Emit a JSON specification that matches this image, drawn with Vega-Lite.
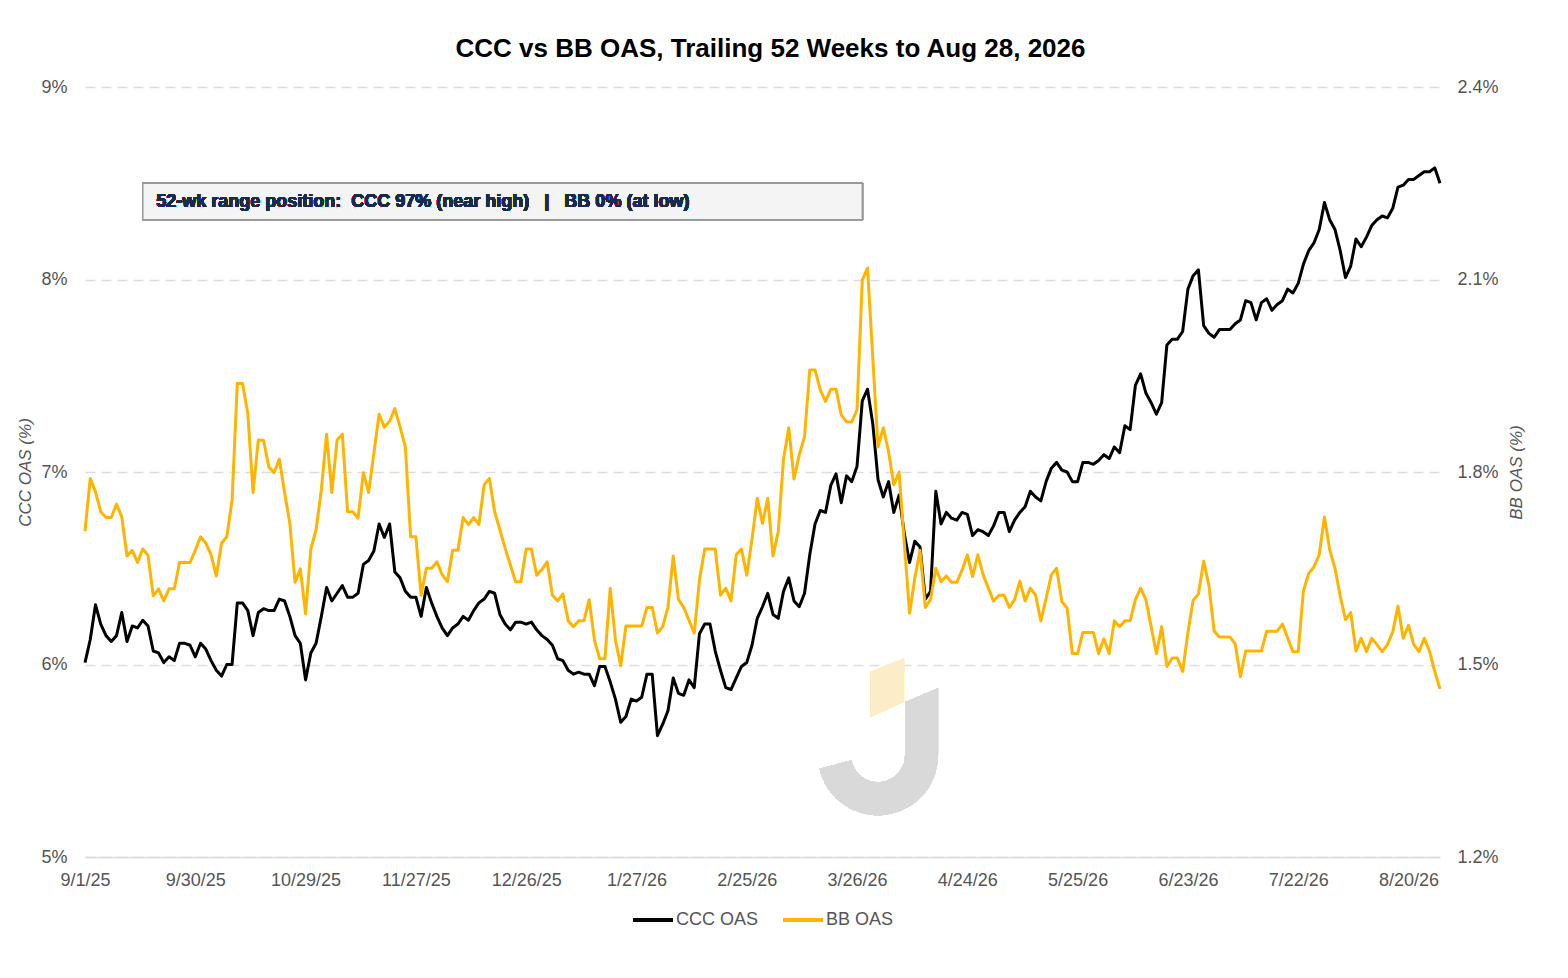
{
  "$schema": "https://vega.github.io/schema/vega-lite/v6.json",
  "width": 1355,
  "height": 770,
  "autosize": {"type": "none"},
  "padding": {"left": 85, "top": 87, "right": 128, "bottom": 121},
  "title": {"text": "CCC vs BB OAS, Trailing 52 Weeks to Aug 28, 2026", "fontSize": 26, "fontWeight": "bold", "color": "#000000", "anchor": "middle", "offset": 16, "dx": 8, "font": "Liberation Sans"},
  "config": {
    "font": "Liberation Sans",
    "view": {"stroke": null},
    "legend": {"layout": {"bottom": {"anchor": "middle"}}}
  },
  "data": {"values": [
    {"date":"9/1/25","ccc":6.01,"bb":1.708},{"date":"9/2/25","ccc":6.13,"bb":1.790},{"date":"9/3/25","ccc":6.31,"bb":1.769},{"date":"9/4/25","ccc":6.21,"bb":1.738},{"date":"9/5/25","ccc":6.15,"bb":1.729},
    {"date":"9/8/25","ccc":6.12,"bb":1.729},{"date":"9/9/25","ccc":6.15,"bb":1.750},{"date":"9/10/25","ccc":6.27,"bb":1.730},{"date":"9/11/25","ccc":6.12,"bb":1.669},{"date":"9/12/25","ccc":6.20,"bb":1.678},
    {"date":"9/15/25","ccc":6.19,"bb":1.659},{"date":"9/16/25","ccc":6.23,"bb":1.680},{"date":"9/17/25","ccc":6.20,"bb":1.670},{"date":"9/18/25","ccc":6.07,"bb":1.607},{"date":"9/19/25","ccc":6.06,"bb":1.618},
    {"date":"9/22/25","ccc":6.01,"bb":1.599},{"date":"9/23/25","ccc":6.04,"bb":1.618},{"date":"9/24/25","ccc":6.02,"bb":1.618},{"date":"9/25/25","ccc":6.11,"bb":1.659},{"date":"9/26/25","ccc":6.11,"bb":1.659},
    {"date":"9/29/25","ccc":6.10,"bb":1.659},{"date":"9/30/25","ccc":6.04,"bb":1.678},{"date":"10/1/25","ccc":6.11,"bb":1.699},{"date":"10/2/25","ccc":6.08,"bb":1.689},{"date":"10/3/25","ccc":6.02,"bb":1.671},
    {"date":"10/6/25","ccc":5.97,"bb":1.638},{"date":"10/7/25","ccc":5.94,"bb":1.689},{"date":"10/8/25","ccc":6.00,"bb":1.699},{"date":"10/9/25","ccc":6.00,"bb":1.756},{"date":"10/10/25","ccc":6.32,"bb":1.938},
    {"date":"10/13/25","ccc":6.32,"bb":1.938},{"date":"10/14/25","ccc":6.28,"bb":1.891},{"date":"10/15/25","ccc":6.15,"bb":1.768},{"date":"10/16/25","ccc":6.27,"bb":1.850},{"date":"10/17/25","ccc":6.29,"bb":1.849},
    {"date":"10/20/25","ccc":6.28,"bb":1.808},{"date":"10/21/25","ccc":6.28,"bb":1.799},{"date":"10/22/25","ccc":6.34,"bb":1.820},{"date":"10/23/25","ccc":6.33,"bb":1.768},{"date":"10/24/25","ccc":6.25,"bb":1.720},
    {"date":"10/27/25","ccc":6.15,"bb":1.628},{"date":"10/28/25","ccc":6.11,"bb":1.649},{"date":"10/29/25","ccc":5.92,"bb":1.579},{"date":"10/30/25","ccc":6.06,"bb":1.680},{"date":"10/31/25","ccc":6.11,"bb":1.710},
    {"date":"11/3/25","ccc":6.25,"bb":1.772},{"date":"11/4/25","ccc":6.40,"bb":1.859},{"date":"11/5/25","ccc":6.33,"bb":1.768},{"date":"11/6/25","ccc":6.37,"bb":1.850},{"date":"11/7/25","ccc":6.41,"bb":1.859},
    {"date":"11/10/25","ccc":6.35,"bb":1.738},{"date":"11/11/25","ccc":6.35,"bb":1.738},{"date":"11/12/25","ccc":6.37,"bb":1.728},{"date":"11/13/25","ccc":6.52,"bb":1.799},{"date":"11/14/25","ccc":6.54,"bb":1.768},
    {"date":"11/17/25","ccc":6.59,"bb":1.829},{"date":"11/18/25","ccc":6.73,"bb":1.890},{"date":"11/19/25","ccc":6.66,"bb":1.870},{"date":"11/20/25","ccc":6.73,"bb":1.879},{"date":"11/21/25","ccc":6.48,"bb":1.899},
    {"date":"11/24/25","ccc":6.45,"bb":1.870},{"date":"11/25/25","ccc":6.38,"bb":1.839},{"date":"11/26/25","ccc":6.35,"bb":1.699},{"date":"11/27/25","ccc":6.35,"bb":1.699},{"date":"11/28/25","ccc":6.25,"bb":1.608},
    {"date":"12/1/25","ccc":6.40,"bb":1.650},{"date":"12/2/25","ccc":6.32,"bb":1.650},{"date":"12/3/25","ccc":6.25,"bb":1.660},{"date":"12/4/25","ccc":6.19,"bb":1.640},{"date":"12/5/25","ccc":6.15,"bb":1.629},
    {"date":"12/8/25","ccc":6.19,"bb":1.678},{"date":"12/9/25","ccc":6.21,"bb":1.678},{"date":"12/10/25","ccc":6.25,"bb":1.729},{"date":"12/11/25","ccc":6.23,"bb":1.718},{"date":"12/12/25","ccc":6.28,"bb":1.729},
    {"date":"12/15/25","ccc":6.32,"bb":1.718},{"date":"12/16/25","ccc":6.34,"bb":1.780},{"date":"12/17/25","ccc":6.38,"bb":1.790},{"date":"12/18/25","ccc":6.37,"bb":1.738},{"date":"12/19/25","ccc":6.26,"bb":1.710},
    {"date":"12/22/25","ccc":6.21,"bb":1.681},{"date":"12/23/25","ccc":6.18,"bb":1.655},{"date":"12/24/25","ccc":6.22,"bb":1.629},{"date":"12/25/25","ccc":6.22,"bb":1.629},{"date":"12/26/25","ccc":6.21,"bb":1.680},
    {"date":"12/29/25","ccc":6.22,"bb":1.680},{"date":"12/30/25","ccc":6.18,"bb":1.639},{"date":"12/31/25","ccc":6.15,"bb":1.648},{"date":"1/2/26","ccc":6.13,"bb":1.660},
    {"date":"1/5/26","ccc":6.10,"bb":1.608},{"date":"1/6/26","ccc":6.03,"bb":1.599},{"date":"1/7/26","ccc":6.02,"bb":1.610},{"date":"1/8/26","ccc":5.97,"bb":1.568},{"date":"1/9/26","ccc":5.95,"bb":1.559},
    {"date":"1/12/26","ccc":5.96,"bb":1.568},{"date":"1/13/26","ccc":5.95,"bb":1.568},{"date":"1/14/26","ccc":5.95,"bb":1.601},{"date":"1/15/26","ccc":5.89,"bb":1.538},{"date":"1/16/26","ccc":5.99,"bb":1.509},
    {"date":"1/19/26","ccc":5.99,"bb":1.509},{"date":"1/20/26","ccc":5.91,"bb":1.619},{"date":"1/21/26","ccc":5.82,"bb":1.538},{"date":"1/22/26","ccc":5.70,"bb":1.498},{"date":"1/23/26","ccc":5.73,"bb":1.560},
    {"date":"1/26/26","ccc":5.82,"bb":1.560},{"date":"1/27/26","ccc":5.81,"bb":1.560},{"date":"1/28/26","ccc":5.83,"bb":1.560},{"date":"1/29/26","ccc":5.95,"bb":1.589},{"date":"1/30/26","ccc":5.95,"bb":1.589},
    {"date":"2/2/26","ccc":5.63,"bb":1.549},{"date":"2/3/26","ccc":5.69,"bb":1.559},{"date":"2/4/26","ccc":5.76,"bb":1.589},{"date":"2/5/26","ccc":5.93,"bb":1.669},{"date":"2/6/26","ccc":5.85,"bb":1.601},
    {"date":"2/9/26","ccc":5.84,"bb":1.589},{"date":"2/10/26","ccc":5.92,"bb":1.569},{"date":"2/11/26","ccc":5.88,"bb":1.549},{"date":"2/12/26","ccc":6.16,"bb":1.632},{"date":"2/13/26","ccc":6.21,"bb":1.680},
    {"date":"2/16/26","ccc":6.21,"bb":1.680},{"date":"2/17/26","ccc":6.07,"bb":1.680},{"date":"2/18/26","ccc":5.97,"bb":1.608},{"date":"2/19/26","ccc":5.88,"bb":1.619},{"date":"2/20/26","ccc":5.87,"bb":1.599},
    {"date":"2/23/26","ccc":5.93,"bb":1.671},{"date":"2/24/26","ccc":5.99,"bb":1.680},{"date":"2/25/26","ccc":6.01,"bb":1.639},{"date":"2/26/26","ccc":6.10,"bb":1.695},{"date":"2/27/26","ccc":6.24,"bb":1.759},
    {"date":"3/2/26","ccc":6.30,"bb":1.720},{"date":"3/3/26","ccc":6.37,"bb":1.759},{"date":"3/4/26","ccc":6.26,"bb":1.669},{"date":"3/5/26","ccc":6.24,"bb":1.707},{"date":"3/6/26","ccc":6.38,"bb":1.820},
    {"date":"3/9/26","ccc":6.45,"bb":1.869},{"date":"3/10/26","ccc":6.33,"bb":1.789},{"date":"3/11/26","ccc":6.30,"bb":1.827},{"date":"3/12/26","ccc":6.37,"bb":1.855},{"date":"3/13/26","ccc":6.57,"bb":1.959},
    {"date":"3/16/26","ccc":6.73,"bb":1.959},{"date":"3/17/26","ccc":6.80,"bb":1.928},{"date":"3/18/26","ccc":6.79,"bb":1.910},{"date":"3/19/26","ccc":6.93,"bb":1.929},{"date":"3/20/26","ccc":6.99,"bb":1.929},
    {"date":"3/23/26","ccc":6.84,"bb":1.889},{"date":"3/24/26","ccc":6.98,"bb":1.878},{"date":"3/25/26","ccc":6.95,"bb":1.878},{"date":"3/26/26","ccc":7.03,"bb":1.897},{"date":"3/27/26","ccc":7.37,"bb":2.099},
    {"date":"3/30/26","ccc":7.43,"bb":2.118},{"date":"3/31/26","ccc":7.25,"bb":1.977},{"date":"4/1/26","ccc":6.96,"bb":1.839},{"date":"4/2/26","ccc":6.87,"bb":1.869},{"date":"4/3/26","ccc":6.95,"bb":1.832},
    {"date":"4/6/26","ccc":6.79,"bb":1.780},{"date":"4/7/26","ccc":6.88,"bb":1.800},{"date":"4/8/26","ccc":6.68,"bb":1.689},{"date":"4/9/26","ccc":6.53,"bb":1.580},{"date":"4/10/26","ccc":6.64,"bb":1.634},
    {"date":"4/13/26","ccc":6.61,"bb":1.678},{"date":"4/14/26","ccc":6.34,"bb":1.589},{"date":"4/15/26","ccc":6.38,"bb":1.601},{"date":"4/16/26","ccc":6.90,"bb":1.650},{"date":"4/17/26","ccc":6.73,"bb":1.629},
    {"date":"4/20/26","ccc":6.79,"bb":1.638},{"date":"4/21/26","ccc":6.76,"bb":1.628},{"date":"4/22/26","ccc":6.75,"bb":1.628},{"date":"4/23/26","ccc":6.79,"bb":1.647},{"date":"4/24/26","ccc":6.78,"bb":1.671},
    {"date":"4/27/26","ccc":6.67,"bb":1.637},{"date":"4/28/26","ccc":6.70,"bb":1.671},{"date":"4/29/26","ccc":6.69,"bb":1.640},{"date":"4/30/26","ccc":6.67,"bb":1.619},{"date":"5/1/26","ccc":6.72,"bb":1.599},
    {"date":"5/4/26","ccc":6.79,"bb":1.608},{"date":"5/5/26","ccc":6.79,"bb":1.608},{"date":"5/6/26","ccc":6.69,"bb":1.589},{"date":"5/7/26","ccc":6.75,"bb":1.601},{"date":"5/8/26","ccc":6.79,"bb":1.630},
    {"date":"5/11/26","ccc":6.82,"bb":1.599},{"date":"5/12/26","ccc":6.90,"bb":1.619},{"date":"5/13/26","ccc":6.87,"bb":1.608},{"date":"5/14/26","ccc":6.85,"bb":1.568},{"date":"5/15/26","ccc":6.95,"bb":1.603},
    {"date":"5/18/26","ccc":7.02,"bb":1.640},{"date":"5/19/26","ccc":7.05,"bb":1.650},{"date":"5/20/26","ccc":7.01,"bb":1.598},{"date":"5/21/26","ccc":7.00,"bb":1.588},{"date":"5/22/26","ccc":6.95,"bb":1.517},
    {"date":"5/25/26","ccc":6.95,"bb":1.517},{"date":"5/26/26","ccc":7.05,"bb":1.550},{"date":"5/27/26","ccc":7.05,"bb":1.550},{"date":"5/28/26","ccc":7.04,"bb":1.550},{"date":"5/29/26","ccc":7.06,"bb":1.517},
    {"date":"6/1/26","ccc":7.09,"bb":1.540},{"date":"6/2/26","ccc":7.07,"bb":1.517},{"date":"6/3/26","ccc":7.13,"bb":1.568},{"date":"6/4/26","ccc":7.10,"bb":1.559},{"date":"6/5/26","ccc":7.24,"bb":1.568},
    {"date":"6/8/26","ccc":7.22,"bb":1.568},{"date":"6/9/26","ccc":7.45,"bb":1.601},{"date":"6/10/26","ccc":7.51,"bb":1.619},{"date":"6/11/26","ccc":7.41,"bb":1.601},{"date":"6/12/26","ccc":7.36,"bb":1.559},
    {"date":"6/15/26","ccc":7.30,"bb":1.517},{"date":"6/16/26","ccc":7.36,"bb":1.559},{"date":"6/17/26","ccc":7.66,"bb":1.497},{"date":"6/18/26","ccc":7.69,"bb":1.510},{"date":"6/19/26","ccc":7.69,"bb":1.510},
    {"date":"6/22/26","ccc":7.73,"bb":1.489},{"date":"6/23/26","ccc":7.95,"bb":1.550},{"date":"6/24/26","ccc":8.02,"bb":1.600},{"date":"6/25/26","ccc":8.05,"bb":1.610},{"date":"6/26/26","ccc":7.76,"bb":1.661},
    {"date":"6/29/26","ccc":7.72,"bb":1.623},{"date":"6/30/26","ccc":7.70,"bb":1.552},{"date":"7/1/26","ccc":7.74,"bb":1.543},{"date":"7/2/26","ccc":7.74,"bb":1.543},{"date":"7/3/26","ccc":7.74,"bb":1.543},
    {"date":"7/6/26","ccc":7.77,"bb":1.532},{"date":"7/7/26","ccc":7.79,"bb":1.481},{"date":"7/8/26","ccc":7.89,"bb":1.521},{"date":"7/9/26","ccc":7.88,"bb":1.521},{"date":"7/10/26","ccc":7.79,"bb":1.521},
    {"date":"7/13/26","ccc":7.88,"bb":1.521},{"date":"7/14/26","ccc":7.90,"bb":1.552},{"date":"7/15/26","ccc":7.84,"bb":1.552},{"date":"7/16/26","ccc":7.87,"bb":1.552},{"date":"7/17/26","ccc":7.89,"bb":1.563},
    {"date":"7/20/26","ccc":7.95,"bb":1.541},{"date":"7/21/26","ccc":7.93,"bb":1.520},{"date":"7/22/26","ccc":7.98,"bb":1.520},{"date":"7/23/26","ccc":8.08,"bb":1.615},{"date":"7/24/26","ccc":8.15,"bb":1.642},
    {"date":"7/27/26","ccc":8.19,"bb":1.652},{"date":"7/28/26","ccc":8.26,"bb":1.671},{"date":"7/29/26","ccc":8.40,"bb":1.730},{"date":"7/30/26","ccc":8.31,"bb":1.679},{"date":"7/31/26","ccc":8.26,"bb":1.650},
    {"date":"8/3/26","ccc":8.15,"bb":1.607},{"date":"8/4/26","ccc":8.01,"bb":1.570},{"date":"8/5/26","ccc":8.07,"bb":1.581},{"date":"8/6/26","ccc":8.21,"bb":1.521},{"date":"8/7/26","ccc":8.17,"bb":1.541},
    {"date":"8/10/26","ccc":8.22,"bb":1.520},{"date":"8/11/26","ccc":8.28,"bb":1.541},{"date":"8/12/26","ccc":8.31,"bb":1.531},{"date":"8/13/26","ccc":8.33,"bb":1.520},{"date":"8/14/26","ccc":8.32,"bb":1.531},
    {"date":"8/17/26","ccc":8.37,"bb":1.551},{"date":"8/18/26","ccc":8.48,"bb":1.591},{"date":"8/19/26","ccc":8.49,"bb":1.541},{"date":"8/20/26","ccc":8.52,"bb":1.561},{"date":"8/21/26","ccc":8.52,"bb":1.531},
    {"date":"8/24/26","ccc":8.54,"bb":1.520},{"date":"8/25/26","ccc":8.56,"bb":1.541},{"date":"8/26/26","ccc":8.56,"bb":1.521},{"date":"8/27/26","ccc":8.58,"bb":1.489},{"date":"8/28/26","ccc":8.50,"bb":1.462}
  ]},
  "layer": [
    {
      "layer": [
        {
          "mark": {"type": "line", "strokeWidth": 3, "strokeJoin": "round"},
          "encoding": {
            "x": {"field": "date", "type": "ordinal", "sort": null,
              "scale": {"type": "point", "padding": 0, "domain": ["9/1/25","9/2/25","9/3/25","9/4/25","9/5/25","9/8/25","9/9/25","9/10/25","9/11/25","9/12/25","9/15/25","9/16/25","9/17/25","9/18/25","9/19/25","9/22/25","9/23/25","9/24/25","9/25/25","9/26/25","9/29/25","9/30/25","10/1/25","10/2/25","10/3/25","10/6/25","10/7/25","10/8/25","10/9/25","10/10/25","10/13/25","10/14/25","10/15/25","10/16/25","10/17/25","10/20/25","10/21/25","10/22/25","10/23/25","10/24/25","10/27/25","10/28/25","10/29/25","10/30/25","10/31/25","11/3/25","11/4/25","11/5/25","11/6/25","11/7/25","11/10/25","11/11/25","11/12/25","11/13/25","11/14/25","11/17/25","11/18/25","11/19/25","11/20/25","11/21/25","11/24/25","11/25/25","11/26/25","11/27/25","11/28/25","12/1/25","12/2/25","12/3/25","12/4/25","12/5/25","12/8/25","12/9/25","12/10/25","12/11/25","12/12/25","12/15/25","12/16/25","12/17/25","12/18/25","12/19/25","12/22/25","12/23/25","12/24/25","12/25/25","12/26/25","12/29/25","12/30/25","12/31/25","1/2/26","1/5/26","1/6/26","1/7/26","1/8/26","1/9/26","1/12/26","1/13/26","1/14/26","1/15/26","1/16/26","1/19/26","1/20/26","1/21/26","1/22/26","1/23/26","1/26/26","1/27/26","1/28/26","1/29/26","1/30/26","2/2/26","2/3/26","2/4/26","2/5/26","2/6/26","2/9/26","2/10/26","2/11/26","2/12/26","2/13/26","2/16/26","2/17/26","2/18/26","2/19/26","2/20/26","2/23/26","2/24/26","2/25/26","2/26/26","2/27/26","3/2/26","3/3/26","3/4/26","3/5/26","3/6/26","3/9/26","3/10/26","3/11/26","3/12/26","3/13/26","3/16/26","3/17/26","3/18/26","3/19/26","3/20/26","3/23/26","3/24/26","3/25/26","3/26/26","3/27/26","3/30/26","3/31/26","4/1/26","4/2/26","4/3/26","4/6/26","4/7/26","4/8/26","4/9/26","4/10/26","4/13/26","4/14/26","4/15/26","4/16/26","4/17/26","4/20/26","4/21/26","4/22/26","4/23/26","4/24/26","4/27/26","4/28/26","4/29/26","4/30/26","5/1/26","5/4/26","5/5/26","5/6/26","5/7/26","5/8/26","5/11/26","5/12/26","5/13/26","5/14/26","5/15/26","5/18/26","5/19/26","5/20/26","5/21/26","5/22/26","5/25/26","5/26/26","5/27/26","5/28/26","5/29/26","6/1/26","6/2/26","6/3/26","6/4/26","6/5/26","6/8/26","6/9/26","6/10/26","6/11/26","6/12/26","6/15/26","6/16/26","6/17/26","6/18/26","6/19/26","6/22/26","6/23/26","6/24/26","6/25/26","6/26/26","6/29/26","6/30/26","7/1/26","7/2/26","7/3/26","7/6/26","7/7/26","7/8/26","7/9/26","7/10/26","7/13/26","7/14/26","7/15/26","7/16/26","7/17/26","7/20/26","7/21/26","7/22/26","7/23/26","7/24/26","7/27/26","7/28/26","7/29/26","7/30/26","7/31/26","8/3/26","8/4/26","8/5/26","8/6/26","8/7/26","8/10/26","8/11/26","8/12/26","8/13/26","8/14/26","8/17/26","8/18/26","8/19/26","8/20/26","8/21/26","8/24/26","8/25/26","8/26/26","8/27/26","8/28/26"]},
              "axis": {"title": null, "values": ["9/1/25","9/30/25","10/29/25","11/27/25","12/26/25","1/27/26","2/25/26","3/26/26","4/24/26","5/25/26","6/23/26","7/22/26","8/20/26"], "labelAngle": 0, "ticks": false, "domain": true, "domainColor": "#d9d9d9", "domainWidth": 1.5, "grid": false, "labelFontSize": 18, "labelColor": "#555555", "labelPadding": 14, "labelOverlap": false, "labelFlush": false}},
            "y": {"field": "ccc", "type": "quantitative", "scale": {"domain": [5, 9], "nice": false, "zero": false},
              "axis": {"values": [5, 6, 7, 8, 9], "labelExpr": "datum.value + '%'", "title": "CCC OAS (%)", "titleFontStyle": "italic", "titleFontWeight": "normal", "titleColor": "#555555", "titleFontSize": 17, "titlePadding": 6, "labelFontSize": 18, "labelColor": "#555555", "labelPadding": 18, "ticks": false, "domain": false, "grid": true, "gridColor": "#dddddd", "gridDash": [10, 6], "gridWidth": 1.5}},
            "color": {"datum": "CCC OAS", "scale": {"domain": ["CCC OAS", "BB OAS"], "range": ["#000000", "#FFB400"]},
              "legend": {"orient": "bottom", "direction": "horizontal", "title": null, "symbolType": "stroke", "symbolSize": 1600, "symbolStrokeWidth": 4, "labelFontSize": 18, "labelColor": "#555555", "columnPadding": 16, "labelOffset": 1, "offset": 9}}
          }
        },
        {
          "mark": {"type": "point", "shape": "M-0.1,-0.81L0.325,-0.9775L0.325,-0.435L-0.1,-0.2475Z", "size": 25600, "filled": true, "fill": "#fdecc8", "stroke": null, "opacity": 1},
          "encoding": {"x": {"datum": "4/1/26", "type": "ordinal"}, "y": {"datum": 5.625, "type": "quantitative"}}
        },
        {
          "mark": {"type": "point", "shape": "M0.3375,-0.431L0.75,-0.606L0.75,0.231A0.75,0.75,0,0,1,0,0.981A0.75,0.75,0,0,1,-0.731,0.4L-0.3315,0.294A0.3375,0.3375,0,0,0,0,0.5685A0.3375,0.3375,0,0,0,0.3375,0.231Z", "size": 25600, "filled": true, "fill": "#d9d9d9", "stroke": null, "opacity": 1},
          "encoding": {"x": {"datum": "4/1/26", "type": "ordinal"}, "y": {"datum": 5.625, "type": "quantitative"}}
        },
        {
          "mark": {"type": "rect", "fill": "#f4f4f4", "stroke": "#9a9a9a", "strokeWidth": 1.5},
          "encoding": {"x": {"datum": "9/16/25", "type": "ordinal"}, "x2": {"datum": "3/27/26"}, "y": {"datum": 8.5, "type": "quantitative"}, "y2": {"datum": 8.31}}
        },
        {
          "mark": {"type": "text", "text": "52-wk range position:\u00a0\u00a0CCC 97% (near high)\u00a0\u00a0\u00a0|\u00a0\u00a0\u00a0BB 0% (at low)", "align": "left", "baseline": "middle", "dx": 3, "fontSize": 18, "fontWeight": "bold", "color": "#1b2a4a"},
          "encoding": {"x": {"datum": "9/18/25", "type": "ordinal"}, "y": {"datum": 8.405, "type": "quantitative"}}
        }
      ]
    },
    {
      "mark": {"type": "line", "strokeWidth": 3, "strokeJoin": "round"},
      "encoding": {
        "x": {"field": "date", "type": "ordinal", "sort": null},
        "y": {"field": "bb", "type": "quantitative", "scale": {"domain": [1.2, 2.4], "nice": false, "zero": false},
          "axis": {"orient": "right", "values": [1.2, 1.5, 1.8, 2.1, 2.4], "labelExpr": "format(datum.value, '.1f') + '%'", "title": "BB OAS (%)", "titleAngle": 270, "titleFontStyle": "italic", "titleFontWeight": "normal", "titleColor": "#555555", "titleFontSize": 17, "titlePadding": 27, "labelFontSize": 18, "labelColor": "#555555", "labelPadding": 17, "ticks": false, "domain": false, "grid": false}},
        "color": {"datum": "BB OAS"}
      }
    }
  ],
  "resolve": {"scale": {"y": "independent"}}
}
